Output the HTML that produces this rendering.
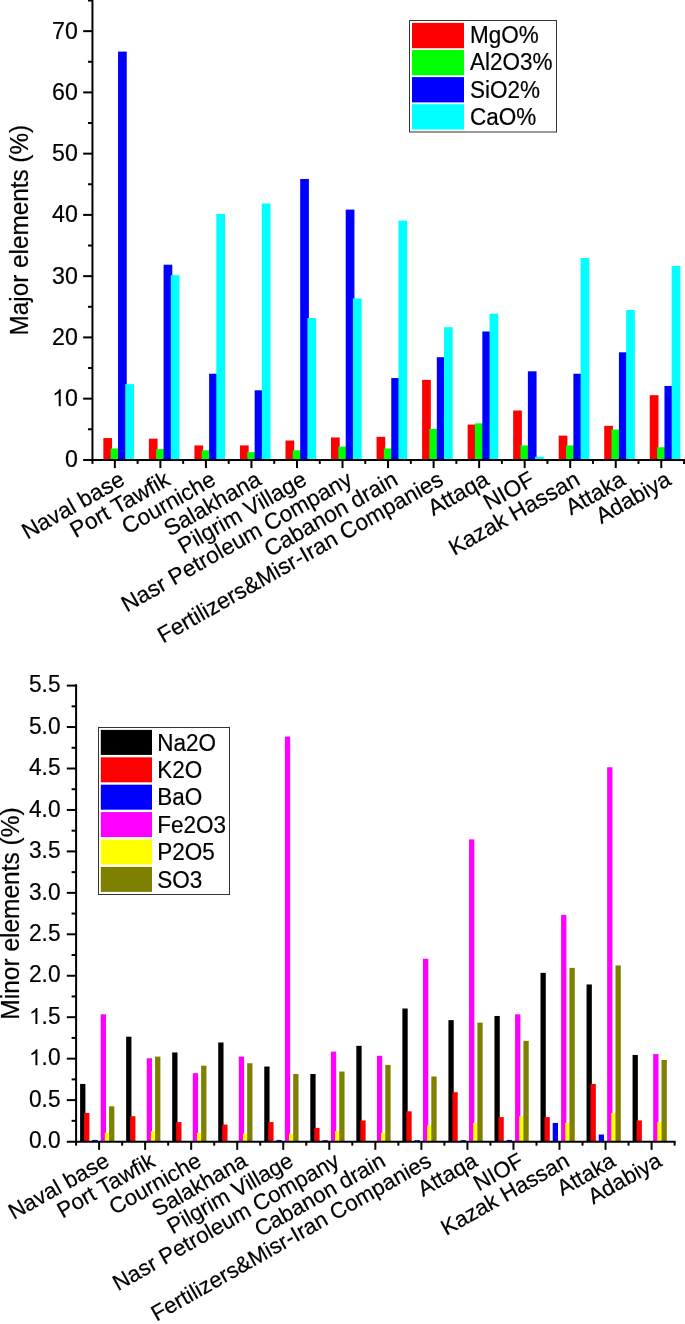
<!DOCTYPE html>
<html><head><meta charset="utf-8"><title>chart</title>
<style>html,body{margin:0;padding:0;background:#fff}svg{display:block}text{font-family:"Liberation Sans",sans-serif;fill:#000;stroke:#000;stroke-width:0.2px;stroke-linejoin:round}svg{will-change:transform}</style>
</head><body>
<svg width="685" height="1324" viewBox="0 0 685 1324">
<rect width="685" height="1324" fill="#fff"/>
<rect x="103.35" y="438.06" width="8.7" height="21.84" fill="#ff0000"/>
<rect x="110.65" y="448.47" width="8.7" height="11.43" fill="#00ff00"/>
<rect x="118.05" y="51.58" width="8.7" height="408.32" fill="#0000ff"/>
<rect x="125.25" y="384.16" width="8.7" height="75.74" fill="#00ffff"/>
<rect x="148.88" y="438.67" width="8.7" height="21.22" fill="#ff0000"/>
<rect x="156.19" y="449.09" width="8.7" height="10.81" fill="#00ff00"/>
<rect x="163.58" y="264.72" width="8.7" height="195.18" fill="#0000ff"/>
<rect x="170.78" y="275.14" width="8.7" height="184.76" fill="#00ffff"/>
<rect x="194.42" y="445.41" width="8.7" height="14.49" fill="#ff0000"/>
<rect x="201.72" y="450.31" width="8.7" height="9.59" fill="#00ff00"/>
<rect x="209.12" y="373.75" width="8.7" height="86.15" fill="#0000ff"/>
<rect x="216.32" y="213.89" width="8.7" height="246.01" fill="#00ffff"/>
<rect x="239.95" y="445.41" width="8.7" height="14.49" fill="#ff0000"/>
<rect x="247.25" y="452.15" width="8.7" height="7.75" fill="#00ff00"/>
<rect x="254.65" y="390.29" width="8.7" height="69.61" fill="#0000ff"/>
<rect x="261.85" y="203.48" width="8.7" height="256.42" fill="#00ffff"/>
<rect x="285.49" y="440.51" width="8.7" height="19.39" fill="#ff0000"/>
<rect x="292.79" y="450.31" width="8.7" height="9.59" fill="#00ff00"/>
<rect x="300.19" y="178.98" width="8.7" height="280.92" fill="#0000ff"/>
<rect x="307.39" y="318.01" width="8.7" height="141.89" fill="#00ffff"/>
<rect x="331.02" y="437.45" width="8.7" height="22.45" fill="#ff0000"/>
<rect x="338.32" y="446.64" width="8.7" height="13.26" fill="#00ff00"/>
<rect x="345.72" y="209.60" width="8.7" height="250.30" fill="#0000ff"/>
<rect x="352.92" y="298.41" width="8.7" height="161.49" fill="#00ffff"/>
<rect x="376.56" y="436.84" width="8.7" height="23.06" fill="#ff0000"/>
<rect x="383.86" y="448.47" width="8.7" height="11.43" fill="#00ff00"/>
<rect x="391.26" y="378.04" width="8.7" height="81.86" fill="#0000ff"/>
<rect x="398.46" y="220.62" width="8.7" height="239.28" fill="#00ffff"/>
<rect x="422.10" y="379.88" width="8.7" height="80.03" fill="#ff0000"/>
<rect x="429.40" y="428.88" width="8.7" height="31.02" fill="#00ff00"/>
<rect x="436.80" y="357.21" width="8.7" height="102.69" fill="#0000ff"/>
<rect x="444.00" y="327.20" width="8.7" height="132.70" fill="#00ffff"/>
<rect x="467.63" y="424.59" width="8.7" height="35.31" fill="#ff0000"/>
<rect x="474.93" y="423.36" width="8.7" height="36.54" fill="#00ff00"/>
<rect x="482.33" y="331.49" width="8.7" height="128.41" fill="#0000ff"/>
<rect x="489.53" y="313.72" width="8.7" height="146.18" fill="#00ffff"/>
<rect x="513.16" y="410.50" width="8.7" height="49.40" fill="#ff0000"/>
<rect x="520.46" y="445.41" width="8.7" height="14.49" fill="#00ff00"/>
<rect x="527.87" y="371.30" width="8.7" height="88.60" fill="#0000ff"/>
<rect x="535.06" y="456.74" width="8.7" height="3.16" fill="#00ffff"/>
<rect x="558.70" y="435.61" width="8.7" height="24.29" fill="#ff0000"/>
<rect x="566.00" y="445.41" width="8.7" height="14.49" fill="#00ff00"/>
<rect x="573.40" y="373.75" width="8.7" height="86.15" fill="#0000ff"/>
<rect x="580.60" y="257.99" width="8.7" height="201.91" fill="#00ffff"/>
<rect x="604.24" y="425.81" width="8.7" height="34.09" fill="#ff0000"/>
<rect x="611.53" y="429.49" width="8.7" height="30.41" fill="#00ff00"/>
<rect x="618.94" y="352.31" width="8.7" height="107.59" fill="#0000ff"/>
<rect x="626.13" y="310.05" width="8.7" height="149.85" fill="#00ffff"/>
<rect x="649.77" y="395.19" width="8.7" height="64.71" fill="#ff0000"/>
<rect x="657.07" y="447.25" width="8.7" height="12.65" fill="#00ff00"/>
<rect x="664.47" y="386.00" width="8.7" height="73.90" fill="#0000ff"/>
<rect x="671.67" y="265.95" width="8.7" height="193.95" fill="#00ffff"/>
<g stroke="#000" stroke-width="2" fill="none">
<line x1="92.45" y1="-5" x2="92.45" y2="460.95"/>
<line x1="83.15" y1="459.9" x2="690" y2="459.9"/>
<line x1="87.95" y1="429.27" x2="92.45" y2="429.27"/>
<line x1="83.15" y1="398.65" x2="92.45" y2="398.65"/>
<line x1="87.95" y1="368.02" x2="92.45" y2="368.02"/>
<line x1="83.15" y1="337.40" x2="92.45" y2="337.40"/>
<line x1="87.95" y1="306.77" x2="92.45" y2="306.77"/>
<line x1="83.15" y1="276.15" x2="92.45" y2="276.15"/>
<line x1="87.95" y1="245.52" x2="92.45" y2="245.52"/>
<line x1="83.15" y1="214.90" x2="92.45" y2="214.90"/>
<line x1="87.95" y1="184.27" x2="92.45" y2="184.27"/>
<line x1="83.15" y1="153.65" x2="92.45" y2="153.65"/>
<line x1="87.95" y1="123.02" x2="92.45" y2="123.02"/>
<line x1="83.15" y1="92.40" x2="92.45" y2="92.40"/>
<line x1="87.95" y1="61.77" x2="92.45" y2="61.77"/>
<line x1="83.15" y1="31.15" x2="92.45" y2="31.15"/>
<line x1="87.95" y1="0.52" x2="92.45" y2="0.52"/>
<line x1="92.45" y1="459.9" x2="92.45" y2="463.9"/>
<line x1="114.85" y1="459.9" x2="114.85" y2="468.09999999999997"/>
<line x1="137.62" y1="459.9" x2="137.62" y2="463.9"/>
<line x1="160.38" y1="459.9" x2="160.38" y2="468.09999999999997"/>
<line x1="183.15" y1="459.9" x2="183.15" y2="463.9"/>
<line x1="205.92" y1="459.9" x2="205.92" y2="468.09999999999997"/>
<line x1="228.69" y1="459.9" x2="228.69" y2="463.9"/>
<line x1="251.45" y1="459.9" x2="251.45" y2="468.09999999999997"/>
<line x1="274.22" y1="459.9" x2="274.22" y2="463.9"/>
<line x1="296.99" y1="459.9" x2="296.99" y2="468.09999999999997"/>
<line x1="319.76" y1="459.9" x2="319.76" y2="463.9"/>
<line x1="342.52" y1="459.9" x2="342.52" y2="468.09999999999997"/>
<line x1="365.29" y1="459.9" x2="365.29" y2="463.9"/>
<line x1="388.06" y1="459.9" x2="388.06" y2="468.09999999999997"/>
<line x1="410.83" y1="459.9" x2="410.83" y2="463.9"/>
<line x1="433.60" y1="459.9" x2="433.60" y2="468.09999999999997"/>
<line x1="456.36" y1="459.9" x2="456.36" y2="463.9"/>
<line x1="479.13" y1="459.9" x2="479.13" y2="468.09999999999997"/>
<line x1="501.90" y1="459.9" x2="501.90" y2="463.9"/>
<line x1="524.66" y1="459.9" x2="524.66" y2="468.09999999999997"/>
<line x1="547.43" y1="459.9" x2="547.43" y2="463.9"/>
<line x1="570.20" y1="459.9" x2="570.20" y2="468.09999999999997"/>
<line x1="592.97" y1="459.9" x2="592.97" y2="463.9"/>
<line x1="615.74" y1="459.9" x2="615.74" y2="468.09999999999997"/>
<line x1="638.50" y1="459.9" x2="638.50" y2="463.9"/>
<line x1="661.27" y1="459.9" x2="661.27" y2="468.09999999999997"/>
<line x1="684.04" y1="459.9" x2="684.04" y2="463.9"/>
</g>
<text font-size="23.2" text-anchor="end" transform="translate(77.9,467.40) scale(1,1.06)">0</text>
<path d="M763 0H583V1147Q518 1085 412.5 1023Q307 961 223 930V1104Q374 1175 487 1276Q600 1377 647 1472H763Z" transform="translate(52.09,406.15) scale(0.01133,-0.01155)" fill="#000"/>
<text font-size="23.2" transform="translate(65.00,406.15) scale(1,1.06)">0</text>
<text font-size="23.2" text-anchor="end" transform="translate(77.9,344.90) scale(1,1.06)">20</text>
<text font-size="23.2" text-anchor="end" transform="translate(77.9,283.65) scale(1,1.06)">30</text>
<text font-size="23.2" text-anchor="end" transform="translate(77.9,222.40) scale(1,1.06)">40</text>
<text font-size="23.2" text-anchor="end" transform="translate(77.9,161.15) scale(1,1.06)">50</text>
<text font-size="23.2" text-anchor="end" transform="translate(77.9,99.90) scale(1,1.06)">60</text>
<text font-size="23.2" text-anchor="end" transform="translate(77.9,38.65) scale(1,1.06)">70</text>
<text font-size="24.3" text-anchor="middle" transform="translate(28.0,230.2) rotate(-90) scale(1,1.025)">Major elements (%)</text>
<text font-size="22.7" text-anchor="end" transform="translate(126.15,483.90) rotate(-29.5)">Naval base</text>
<text font-size="22.7" text-anchor="end" transform="translate(171.69,483.90) rotate(-29.5)">Port Tawfik</text>
<text font-size="22.7" text-anchor="end" transform="translate(217.22,483.90) rotate(-29.5)">Courniche</text>
<text font-size="22.7" text-anchor="end" transform="translate(262.75,483.90) rotate(-29.5)">Salakhana</text>
<text font-size="22.7" text-anchor="end" transform="translate(308.29,483.90) rotate(-29.5)">Pilgrim Village</text>
<text font-size="22.7" text-anchor="end" transform="translate(353.82,483.90) rotate(-29.5)">Nasr Petroleum Company</text>
<text font-size="22.7" text-anchor="end" transform="translate(399.36,483.90) rotate(-29.5)">Cabanon drain</text>
<text font-size="22.7" text-anchor="end" transform="translate(444.90,483.90) rotate(-29.5)">Fertilizers&amp;Misr-Iran Companies</text>
<text font-size="22.7" text-anchor="end" transform="translate(490.43,483.90) rotate(-29.5)">Attaqa</text>
<text font-size="22.7" text-anchor="end" transform="translate(535.96,483.90) rotate(-29.5)">NIOF</text>
<text font-size="22.7" text-anchor="end" transform="translate(581.50,483.90) rotate(-29.5)">Kazak Hassan</text>
<text font-size="22.7" text-anchor="end" transform="translate(627.03,483.90) rotate(-29.5)">Attaka</text>
<text font-size="22.7" text-anchor="end" transform="translate(672.57,483.90) rotate(-29.5)">Adabiya</text>
<rect x="409.5" y="20.5" width="147" height="111.5" fill="#fff" stroke="#333" stroke-width="1"/>
<rect x="412" y="22.90" width="52" height="25.3" fill="#ff0000"/>
<text font-size="22.5" transform="translate(470,43.30) scale(1,1.045)">MgO%</text>
<rect x="412" y="50.00" width="52" height="25.3" fill="#00ff00"/>
<text font-size="22.5" transform="translate(470,70.40) scale(1,1.045)">Al2O3%</text>
<rect x="412" y="77.10" width="52" height="25.3" fill="#0000ff"/>
<text font-size="22.5" transform="translate(470,97.50) scale(1,1.045)">SiO2%</text>
<rect x="412" y="104.20" width="52" height="25.3" fill="#00ffff"/>
<text font-size="22.5" transform="translate(470,124.60) scale(1,1.045)">CaO%</text>
<rect x="80.10" y="1083.95" width="5.3" height="57.20" fill="#000000"/>
<rect x="84.10" y="1112.96" width="5.3" height="28.19" fill="#ff0000"/>
<rect x="92.30" y="1139.91" width="5.3" height="1.24" fill="#0000ff"/>
<rect x="100.70" y="1014.31" width="5.3" height="126.84" fill="#ff00ff"/>
<rect x="104.85" y="1132.86" width="5.3" height="8.29" fill="#ffff00"/>
<rect x="109.05" y="1106.33" width="5.3" height="34.82" fill="#808000"/>
<rect x="126.14" y="1036.70" width="5.3" height="104.45" fill="#000000"/>
<rect x="130.14" y="1116.28" width="5.3" height="24.87" fill="#ff0000"/>
<rect x="146.74" y="1058.25" width="5.3" height="82.90" fill="#ff00ff"/>
<rect x="150.89" y="1131.20" width="5.3" height="9.95" fill="#ffff00"/>
<rect x="155.09" y="1056.59" width="5.3" height="84.56" fill="#808000"/>
<rect x="172.18" y="1052.45" width="5.3" height="88.70" fill="#000000"/>
<rect x="176.18" y="1122.08" width="5.3" height="19.07" fill="#ff0000"/>
<rect x="192.78" y="1073.17" width="5.3" height="67.98" fill="#ff00ff"/>
<rect x="196.93" y="1132.86" width="5.3" height="8.29" fill="#ffff00"/>
<rect x="201.13" y="1065.71" width="5.3" height="75.44" fill="#808000"/>
<rect x="218.22" y="1042.50" width="5.3" height="98.65" fill="#000000"/>
<rect x="222.22" y="1124.57" width="5.3" height="16.58" fill="#ff0000"/>
<rect x="238.82" y="1056.59" width="5.3" height="84.56" fill="#ff00ff"/>
<rect x="242.97" y="1133.69" width="5.3" height="7.46" fill="#ffff00"/>
<rect x="247.17" y="1063.22" width="5.3" height="77.93" fill="#808000"/>
<rect x="264.26" y="1066.54" width="5.3" height="74.61" fill="#000000"/>
<rect x="268.26" y="1122.08" width="5.3" height="19.07" fill="#ff0000"/>
<rect x="276.46" y="1139.91" width="5.3" height="1.24" fill="#0000ff"/>
<rect x="284.86" y="736.60" width="5.3" height="404.55" fill="#ff00ff"/>
<rect x="289.01" y="1133.69" width="5.3" height="7.46" fill="#ffff00"/>
<rect x="293.21" y="1074.00" width="5.3" height="67.15" fill="#808000"/>
<rect x="310.30" y="1074.00" width="5.3" height="67.15" fill="#000000"/>
<rect x="314.30" y="1127.89" width="5.3" height="13.26" fill="#ff0000"/>
<rect x="322.50" y="1140.16" width="5.3" height="0.99" fill="#0000ff"/>
<rect x="330.90" y="1051.62" width="5.3" height="89.53" fill="#ff00ff"/>
<rect x="335.05" y="1131.20" width="5.3" height="9.95" fill="#ffff00"/>
<rect x="339.25" y="1071.51" width="5.3" height="69.64" fill="#808000"/>
<rect x="356.34" y="1045.82" width="5.3" height="95.33" fill="#000000"/>
<rect x="360.34" y="1120.43" width="5.3" height="20.73" fill="#ff0000"/>
<rect x="376.94" y="1055.76" width="5.3" height="85.39" fill="#ff00ff"/>
<rect x="381.09" y="1132.86" width="5.3" height="8.29" fill="#ffff00"/>
<rect x="385.29" y="1064.88" width="5.3" height="76.27" fill="#808000"/>
<rect x="402.38" y="1008.51" width="5.3" height="132.64" fill="#000000"/>
<rect x="406.38" y="1111.31" width="5.3" height="29.84" fill="#ff0000"/>
<rect x="414.58" y="1140.16" width="5.3" height="0.99" fill="#0000ff"/>
<rect x="422.98" y="958.77" width="5.3" height="182.38" fill="#ff00ff"/>
<rect x="427.13" y="1125.40" width="5.3" height="15.75" fill="#ffff00"/>
<rect x="431.33" y="1076.49" width="5.3" height="64.66" fill="#808000"/>
<rect x="448.42" y="1020.12" width="5.3" height="121.03" fill="#000000"/>
<rect x="452.42" y="1092.24" width="5.3" height="48.91" fill="#ff0000"/>
<rect x="460.62" y="1140.16" width="5.3" height="0.99" fill="#0000ff"/>
<rect x="469.02" y="839.39" width="5.3" height="301.76" fill="#ff00ff"/>
<rect x="473.17" y="1122.91" width="5.3" height="18.24" fill="#ffff00"/>
<rect x="477.37" y="1022.60" width="5.3" height="118.55" fill="#808000"/>
<rect x="494.46" y="1015.97" width="5.3" height="125.18" fill="#000000"/>
<rect x="498.46" y="1117.11" width="5.3" height="24.04" fill="#ff0000"/>
<rect x="506.66" y="1139.91" width="5.3" height="1.24" fill="#0000ff"/>
<rect x="515.06" y="1014.31" width="5.3" height="126.84" fill="#ff00ff"/>
<rect x="519.21" y="1116.28" width="5.3" height="24.87" fill="#ffff00"/>
<rect x="523.41" y="1040.84" width="5.3" height="100.31" fill="#808000"/>
<rect x="540.50" y="972.86" width="5.3" height="168.29" fill="#000000"/>
<rect x="544.50" y="1117.11" width="5.3" height="24.04" fill="#ff0000"/>
<rect x="552.70" y="1122.91" width="5.3" height="18.24" fill="#0000ff"/>
<rect x="561.10" y="914.83" width="5.3" height="226.32" fill="#ff00ff"/>
<rect x="565.25" y="1122.91" width="5.3" height="18.24" fill="#ffff00"/>
<rect x="569.45" y="967.89" width="5.3" height="173.26" fill="#808000"/>
<rect x="586.54" y="984.47" width="5.3" height="156.68" fill="#000000"/>
<rect x="590.54" y="1083.95" width="5.3" height="57.20" fill="#ff0000"/>
<rect x="598.74" y="1134.52" width="5.3" height="6.63" fill="#0000ff"/>
<rect x="607.14" y="767.27" width="5.3" height="373.88" fill="#ff00ff"/>
<rect x="611.29" y="1112.96" width="5.3" height="28.19" fill="#ffff00"/>
<rect x="615.49" y="965.40" width="5.3" height="175.75" fill="#808000"/>
<rect x="632.58" y="1054.93" width="5.3" height="86.22" fill="#000000"/>
<rect x="636.58" y="1120.43" width="5.3" height="20.73" fill="#ff0000"/>
<rect x="653.18" y="1054.11" width="5.3" height="87.05" fill="#ff00ff"/>
<rect x="657.33" y="1122.08" width="5.3" height="19.07" fill="#ffff00"/>
<rect x="661.53" y="1059.91" width="5.3" height="81.24" fill="#808000"/>
<g stroke="#000" stroke-width="2" fill="none">
<line x1="76.1" y1="684.15" x2="76.1" y2="1142.7"/>
<line x1="66.8" y1="1141.65" x2="675.6" y2="1141.65"/>
<line x1="71.6" y1="1120.83" x2="76.1" y2="1120.83"/>
<line x1="66.8" y1="1100.10" x2="76.1" y2="1100.10"/>
<line x1="71.6" y1="1079.38" x2="76.1" y2="1079.38"/>
<line x1="66.8" y1="1058.65" x2="76.1" y2="1058.65"/>
<line x1="71.6" y1="1037.93" x2="76.1" y2="1037.93"/>
<line x1="66.8" y1="1017.20" x2="76.1" y2="1017.20"/>
<line x1="71.6" y1="996.48" x2="76.1" y2="996.48"/>
<line x1="66.8" y1="975.75" x2="76.1" y2="975.75"/>
<line x1="71.6" y1="955.03" x2="76.1" y2="955.03"/>
<line x1="66.8" y1="934.30" x2="76.1" y2="934.30"/>
<line x1="71.6" y1="913.58" x2="76.1" y2="913.58"/>
<line x1="66.8" y1="892.85" x2="76.1" y2="892.85"/>
<line x1="71.6" y1="872.13" x2="76.1" y2="872.13"/>
<line x1="66.8" y1="851.40" x2="76.1" y2="851.40"/>
<line x1="71.6" y1="830.68" x2="76.1" y2="830.68"/>
<line x1="66.8" y1="809.95" x2="76.1" y2="809.95"/>
<line x1="71.6" y1="789.23" x2="76.1" y2="789.23"/>
<line x1="66.8" y1="768.50" x2="76.1" y2="768.50"/>
<line x1="71.6" y1="747.78" x2="76.1" y2="747.78"/>
<line x1="66.8" y1="727.05" x2="76.1" y2="727.05"/>
<line x1="71.6" y1="706.33" x2="76.1" y2="706.33"/>
<line x1="66.8" y1="685.60" x2="76.1" y2="685.60"/>
<line x1="76.10" y1="1141.65" x2="76.10" y2="1145.65"/>
<line x1="99.10" y1="1141.65" x2="99.10" y2="1149.8500000000001"/>
<line x1="122.12" y1="1141.65" x2="122.12" y2="1145.65"/>
<line x1="145.14" y1="1141.65" x2="145.14" y2="1149.8500000000001"/>
<line x1="168.16" y1="1141.65" x2="168.16" y2="1145.65"/>
<line x1="191.18" y1="1141.65" x2="191.18" y2="1149.8500000000001"/>
<line x1="214.20" y1="1141.65" x2="214.20" y2="1145.65"/>
<line x1="237.22" y1="1141.65" x2="237.22" y2="1149.8500000000001"/>
<line x1="260.24" y1="1141.65" x2="260.24" y2="1145.65"/>
<line x1="283.26" y1="1141.65" x2="283.26" y2="1149.8500000000001"/>
<line x1="306.28" y1="1141.65" x2="306.28" y2="1145.65"/>
<line x1="329.30" y1="1141.65" x2="329.30" y2="1149.8500000000001"/>
<line x1="352.32" y1="1141.65" x2="352.32" y2="1145.65"/>
<line x1="375.34" y1="1141.65" x2="375.34" y2="1149.8500000000001"/>
<line x1="398.36" y1="1141.65" x2="398.36" y2="1145.65"/>
<line x1="421.38" y1="1141.65" x2="421.38" y2="1149.8500000000001"/>
<line x1="444.40" y1="1141.65" x2="444.40" y2="1145.65"/>
<line x1="467.42" y1="1141.65" x2="467.42" y2="1149.8500000000001"/>
<line x1="490.44" y1="1141.65" x2="490.44" y2="1145.65"/>
<line x1="513.46" y1="1141.65" x2="513.46" y2="1149.8500000000001"/>
<line x1="536.48" y1="1141.65" x2="536.48" y2="1145.65"/>
<line x1="559.50" y1="1141.65" x2="559.50" y2="1149.8500000000001"/>
<line x1="582.52" y1="1141.65" x2="582.52" y2="1145.65"/>
<line x1="605.54" y1="1141.65" x2="605.54" y2="1149.8500000000001"/>
<line x1="628.56" y1="1141.65" x2="628.56" y2="1145.65"/>
<line x1="651.58" y1="1141.65" x2="651.58" y2="1149.8500000000001"/>
<line x1="674.60" y1="1141.65" x2="674.60" y2="1145.65"/>
</g>
<text font-size="22.7" text-anchor="end" transform="translate(60.5,1148.25) scale(1,1.02)">0.0</text>
<text font-size="22.7" text-anchor="end" transform="translate(60.5,1106.80) scale(1,1.02)">0.5</text>
<path d="M763 0H583V1147Q518 1085 412.5 1023Q307 961 223 930V1104Q374 1175 487 1276Q600 1377 647 1472H763Z" transform="translate(28.94,1065.35) scale(0.01108,-0.01087)" fill="#000"/>
<text font-size="22.7" transform="translate(41.57,1065.35) scale(1,1.02)">.</text>
<text font-size="22.7" transform="translate(47.88,1065.35) scale(1,1.02)">0</text>
<path d="M763 0H583V1147Q518 1085 412.5 1023Q307 961 223 930V1104Q374 1175 487 1276Q600 1377 647 1472H763Z" transform="translate(28.94,1023.90) scale(0.01108,-0.01087)" fill="#000"/>
<text font-size="22.7" transform="translate(41.57,1023.90) scale(1,1.02)">.</text>
<text font-size="22.7" transform="translate(47.88,1023.90) scale(1,1.02)">5</text>
<text font-size="22.7" text-anchor="end" transform="translate(60.5,982.45) scale(1,1.02)">2.0</text>
<text font-size="22.7" text-anchor="end" transform="translate(60.5,941.00) scale(1,1.02)">2.5</text>
<text font-size="22.7" text-anchor="end" transform="translate(60.5,899.55) scale(1,1.02)">3.0</text>
<text font-size="22.7" text-anchor="end" transform="translate(60.5,858.10) scale(1,1.02)">3.5</text>
<text font-size="22.7" text-anchor="end" transform="translate(60.5,816.65) scale(1,1.02)">4.0</text>
<text font-size="22.7" text-anchor="end" transform="translate(60.5,775.20) scale(1,1.02)">4.5</text>
<text font-size="22.7" text-anchor="end" transform="translate(60.5,733.75) scale(1,1.02)">5.0</text>
<text font-size="22.7" text-anchor="end" transform="translate(60.5,692.30) scale(1,1.02)">5.5</text>
<text font-size="24.5" text-anchor="middle" transform="translate(18.5,913.5) rotate(-90) scale(1,1.02)">Minor elements (%)</text>
<text font-size="22.25" text-anchor="end" transform="translate(110.70,1165.25) rotate(-29.5)">Naval base</text>
<text font-size="22.25" text-anchor="end" transform="translate(156.74,1165.25) rotate(-29.5)">Port Tawfik</text>
<text font-size="22.25" text-anchor="end" transform="translate(202.78,1165.25) rotate(-29.5)">Courniche</text>
<text font-size="22.25" text-anchor="end" transform="translate(248.82,1165.25) rotate(-29.5)">Salakhana</text>
<text font-size="22.25" text-anchor="end" transform="translate(294.86,1165.25) rotate(-29.5)">Pilgrim Village</text>
<text font-size="22.25" text-anchor="end" transform="translate(340.90,1165.25) rotate(-29.5)">Nasr Petroleum Company</text>
<text font-size="22.25" text-anchor="end" transform="translate(386.94,1165.25) rotate(-29.5)">Cabanon drain</text>
<text font-size="22.25" text-anchor="end" transform="translate(432.98,1165.25) rotate(-29.5)">Fertilizers&amp;Misr-Iran Companies</text>
<text font-size="22.25" text-anchor="end" transform="translate(479.02,1165.25) rotate(-29.5)">Attaqa</text>
<text font-size="22.25" text-anchor="end" transform="translate(525.06,1165.25) rotate(-29.5)">NIOF</text>
<text font-size="22.25" text-anchor="end" transform="translate(571.10,1165.25) rotate(-29.5)">Kazak Hassan</text>
<text font-size="22.25" text-anchor="end" transform="translate(617.14,1165.25) rotate(-29.5)">Attaka</text>
<text font-size="22.25" text-anchor="end" transform="translate(663.18,1165.25) rotate(-29.5)">Adabiya</text>
<rect x="98.5" y="727.5" width="131" height="167" fill="#fff" stroke="#333" stroke-width="1"/>
<rect x="100.8" y="729.90" width="51.2" height="25" fill="#000000"/>
<text font-size="22.5" transform="translate(157.3,750.50) scale(1,1.045)">Na2O</text>
<rect x="100.8" y="757.30" width="51.2" height="25" fill="#ff0000"/>
<text font-size="22.5" transform="translate(157.3,777.90) scale(1,1.045)">K2O</text>
<rect x="100.8" y="784.70" width="51.2" height="25" fill="#0000ff"/>
<text font-size="22.5" transform="translate(157.3,805.30) scale(1,1.045)">BaO</text>
<rect x="100.8" y="812.10" width="51.2" height="25" fill="#ff00ff"/>
<text font-size="22.5" transform="translate(157.3,832.70) scale(1,1.045)">Fe2O3</text>
<rect x="100.8" y="839.50" width="51.2" height="25" fill="#ffff00"/>
<text font-size="22.5" transform="translate(157.3,860.10) scale(1,1.045)">P2O5</text>
<rect x="100.8" y="866.90" width="51.2" height="25" fill="#808000"/>
<text font-size="22.5" transform="translate(157.3,887.50) scale(1,1.045)">SO3</text>
</svg></body></html>
